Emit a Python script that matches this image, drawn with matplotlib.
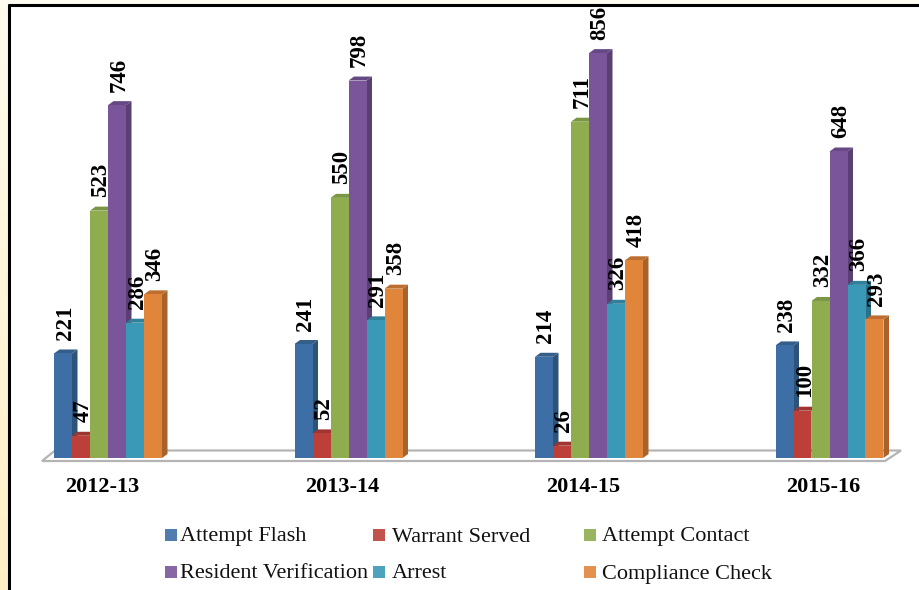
import matplotlib
matplotlib.use('Agg')
import matplotlib.pyplot as plt
import numpy as np

years = ['2012-13', '2013-14', '2014-15', '2015-16']
series = ['Attempt Flash', 'Warrant Served', 'Attempt Contact',
          'Resident Verification', 'Arrest', 'Compliance Check']
attempt_flash = [221, 241, 214, 238]
warrant_served = [47, 52, 26, 100]
attempt_contact = [523, 550, 711, 332]
resident_verification = [746, 798, 856, 648]
arrest = [286, 291, 326, 366]
compliance_check = [346, 358, 418, 293]
all_values = [attempt_flash, warrant_served, attempt_contact,
              resident_verification, arrest, compliance_check]

front = ['#3D6EA6', '#BC3F3A', '#8FAD4E', '#7A559A', '#3A99B6', '#E0853A']
side = ['#2E5379', '#8B2E2B', '#6B833A', '#5A3F73', '#2B7288', '#A8632B']
top = ['#345E8A', '#9E3531', '#7A9543', '#664984', '#31809A', '#BC6F30']

SERIF = 'Liberation Serif'
W, H = 919, 590
PX_X = 240.5           # pixels per group
PX_Y = 0.473           # pixels per count
X0, Y0 = 108, 458      # pixel of first group centre / baseline

fig = plt.figure(figsize=(W / 100, H / 100), dpi=100, facecolor='white')

# page background strip and frame
bg = fig.add_axes([0, 0, 1, 1])
grad = np.linspace(0, 1, 64).reshape(-1, 1, 1)
c0 = np.array([1.0, 0.985, 0.93]).reshape(1, 1, 3)
c1 = np.array([1.0, 0.94, 0.78]).reshape(1, 1, 3)
bg.imshow(c0 + (c1 - c0) * grad, extent=(0, 8, H, 0), aspect='auto')
bg.fill_between([0, W], 0, 4, color='#FFFBEE', lw=0)
bg.plot([9, 9], [4, H], color='black', lw=2.2, solid_capstyle='butt')
bg.plot([8, W], [5, 5], color='black', lw=2.2, solid_capstyle='butt')
bg.set_xlim(0, W)
bg.set_ylim(H, 0)
bg.axis('off')

ax = fig.add_axes([0, 0, 1, 1])
ax.patch.set_alpha(0)
ax.set_xlim(-X0 / PX_X, (W - X0) / PX_X)
ax.set_ylim((Y0 - H) / PX_Y, Y0 / PX_Y)
ax.axis('off')

bar_w = 18 / PX_X
dx = 5.5 / PX_X
dy = 4 / PX_Y
n_groups = len(years)

# floor
fl = (Y0 - 461) / PX_Y
bk = (Y0 - 450.5) / PX_Y
fl_x = [(42 - X0) / PX_X, (885 - X0) / PX_X, (901 - X0) / PX_X, (55 - X0) / PX_X]
ax.fill(fl_x, [fl, fl, bk, bk], facecolor='white', edgecolor='#B4B4B4', lw=1.6, zorder=1)

for i in range(n_groups):
    for j, vals in enumerate(all_values):
        v = vals[i]
        x = i + (j - 2.5) * bar_w
        x0, x1 = x - bar_w / 2, x + bar_w / 2
        z = 2 + j * 0.1
        ax.fill([x1, x1 + dx, x1 + dx, x1], [0, dy, v + dy, v],
                color=side[j], lw=0, zorder=z)
        ax.fill([x0, x1, x1 + dx, x0 + dx], [v, v, v + dy, v + dy],
                color=top[j], lw=0, zorder=z)
        ax.bar(x, v, width=bar_w, color=front[j], lw=0, zorder=z + 0.05)

for i in range(n_groups):
    for j, vals in enumerate(all_values):
        v = vals[i]
        x = i + (j - 2.5) * bar_w + 2 / PX_X
        ax.text(x, v + 13.5 / PX_Y, str(v), rotation=90, ha='center', va='bottom',
                family=SERIF, fontweight='bold', fontsize=16.5, color='black', zorder=5)
    ax.text(i - 6 / PX_X, (Y0 - 487) / PX_Y, years[i], ha='center', va='center',
            family=SERIF, fontweight='bold', fontsize=16, color='black', zorder=5)

# legend, 3 columns x 2 rows
leg_x = [171, 379, 590]
leg_text = [180, 392, 602]
leg_y = [535, 572]
for k, name in enumerate(series):
    bg.scatter([leg_x[k % 3]], [leg_y[k // 3]], marker='s', s=72, color=front[k], lw=0, alpha=0.9)
    bg.text(leg_text[k % 3], leg_y[k // 3] + 6.5, name, ha='left', va='baseline', family=SERIF,
            fontsize=16, color='#111111')

fig.savefig('out.png', dpi=100, facecolor='white')
